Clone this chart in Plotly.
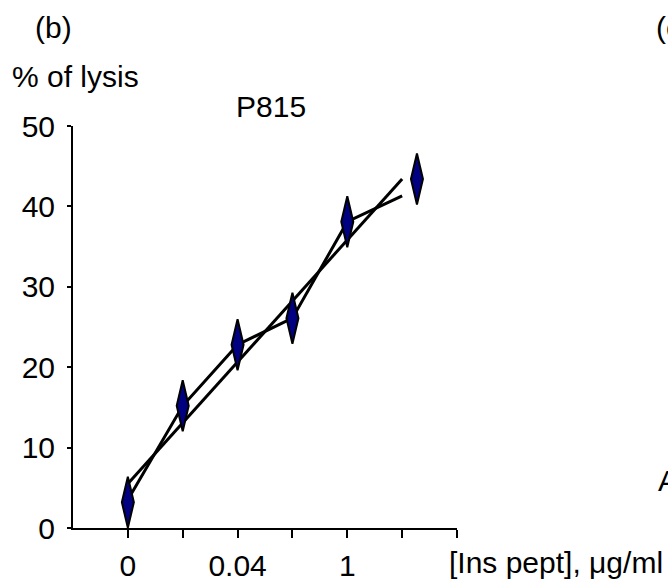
import numpy as np
import plotly.graph_objects as go

# ---- data ----
tick_pos = [0, 1, 2, 3, 4, 5, 6]
tick_labels = ["0", "", "0.04", "", "1", "", ""]
y_ticks = [0, 10, 20, 30, 40, 50]
point_x = [0, 1, 2, 3, 4, 5.27]
point_y = [3.2, 15.2, 22.8, 26.1, 38.1, 43.4]
line_x = [0, 1, 2, 3, 4, 5]
line_y = [3.5, 15.2, 22.8, 26.1, 38.1, 41.3]
trend_x = [0, 5]
trend_y = [5.5, 43.4]

W, H = 668, 583
ML, MR, MT, MB = 73, 211, 126, 55
XR = [-1, 6]
YR = [0, 50]
pw = W - ML - MR
ph = H - MT - MB
ux = (XR[1] - XR[0]) / pw   # data units per pixel
uy = (YR[1] - YR[0]) / ph

# tall narrow diamonds built around each data point
hw, hh = 6 * ux, 25.5 * uy
dx, dy = [], []
for x, y in zip(point_x, point_y):
    dx += [x, x + hw, x, x - hw, x, None]
    dy += [y + hh, y, y - hh, y, y + hh, None]

fig = go.Figure()
fig.add_trace(go.Scatter(x=trend_x, y=trend_y, mode="lines",
                         line=dict(color="black", width=3), showlegend=False, hoverinfo="skip"))
fig.add_trace(go.Scatter(x=line_x, y=line_y, mode="lines",
                         line=dict(color="black", width=3), showlegend=False, hoverinfo="skip"))
fig.add_trace(go.Scatter(x=dx, y=dy, mode="lines", fill="toself", fillcolor="#000080",
                         line=dict(color="black", width=2), showlegend=False))

font = dict(family="Liberation Sans, Arial, sans-serif", size=30, color="black")

def px(xp):
    return (xp - ML) / pw

def py(yp):
    return (H - MB - yp) / ph

ann = [
    ("(b)", 53, 27, "center"),
    ("% of lysis", 10, 76, "left"),
    ("P815", 271, 106, "center"),
    ("(c", 654, 27, "left"),
    ("A", 656, 480, "left"),
    ("[Ins pept], μg/ml", 447, 562, "left"),
]
annotations = [dict(text=t, x=px(x), y=py(y), xref="paper", yref="paper",
                    xanchor=a, yanchor="middle", showarrow=False, font=font)
               for t, x, y, a in ann]

fig.update_layout(
    width=W, height=H,
    margin=dict(l=ML, r=MR, t=MT, b=MB, pad=0, autoexpand=False),
    paper_bgcolor="white", plot_bgcolor="white",
    font=font,
    annotations=annotations,
    xaxis=dict(range=XR, tickvals=tick_pos, ticktext=tick_labels, showgrid=False,
               zeroline=False, showline=True, linecolor="black", linewidth=2,
               ticks="outside", ticklen=8, tickwidth=2, tickcolor="black",
               tickfont=font, ticklabelstandoff=2, automargin=False),
    yaxis=dict(range=YR, tickvals=y_ticks, showgrid=False,
               zeroline=False, showline=True, linecolor="black", linewidth=2,
               ticks="outside", ticklen=4, tickwidth=1.5, tickcolor="black",
               tickfont=font, ticklabelstandoff=6, automargin=False),
)
fig.write_html("out.html", config={"displayModeBar": False},
               post_script="document.body.style.margin='0px';")
